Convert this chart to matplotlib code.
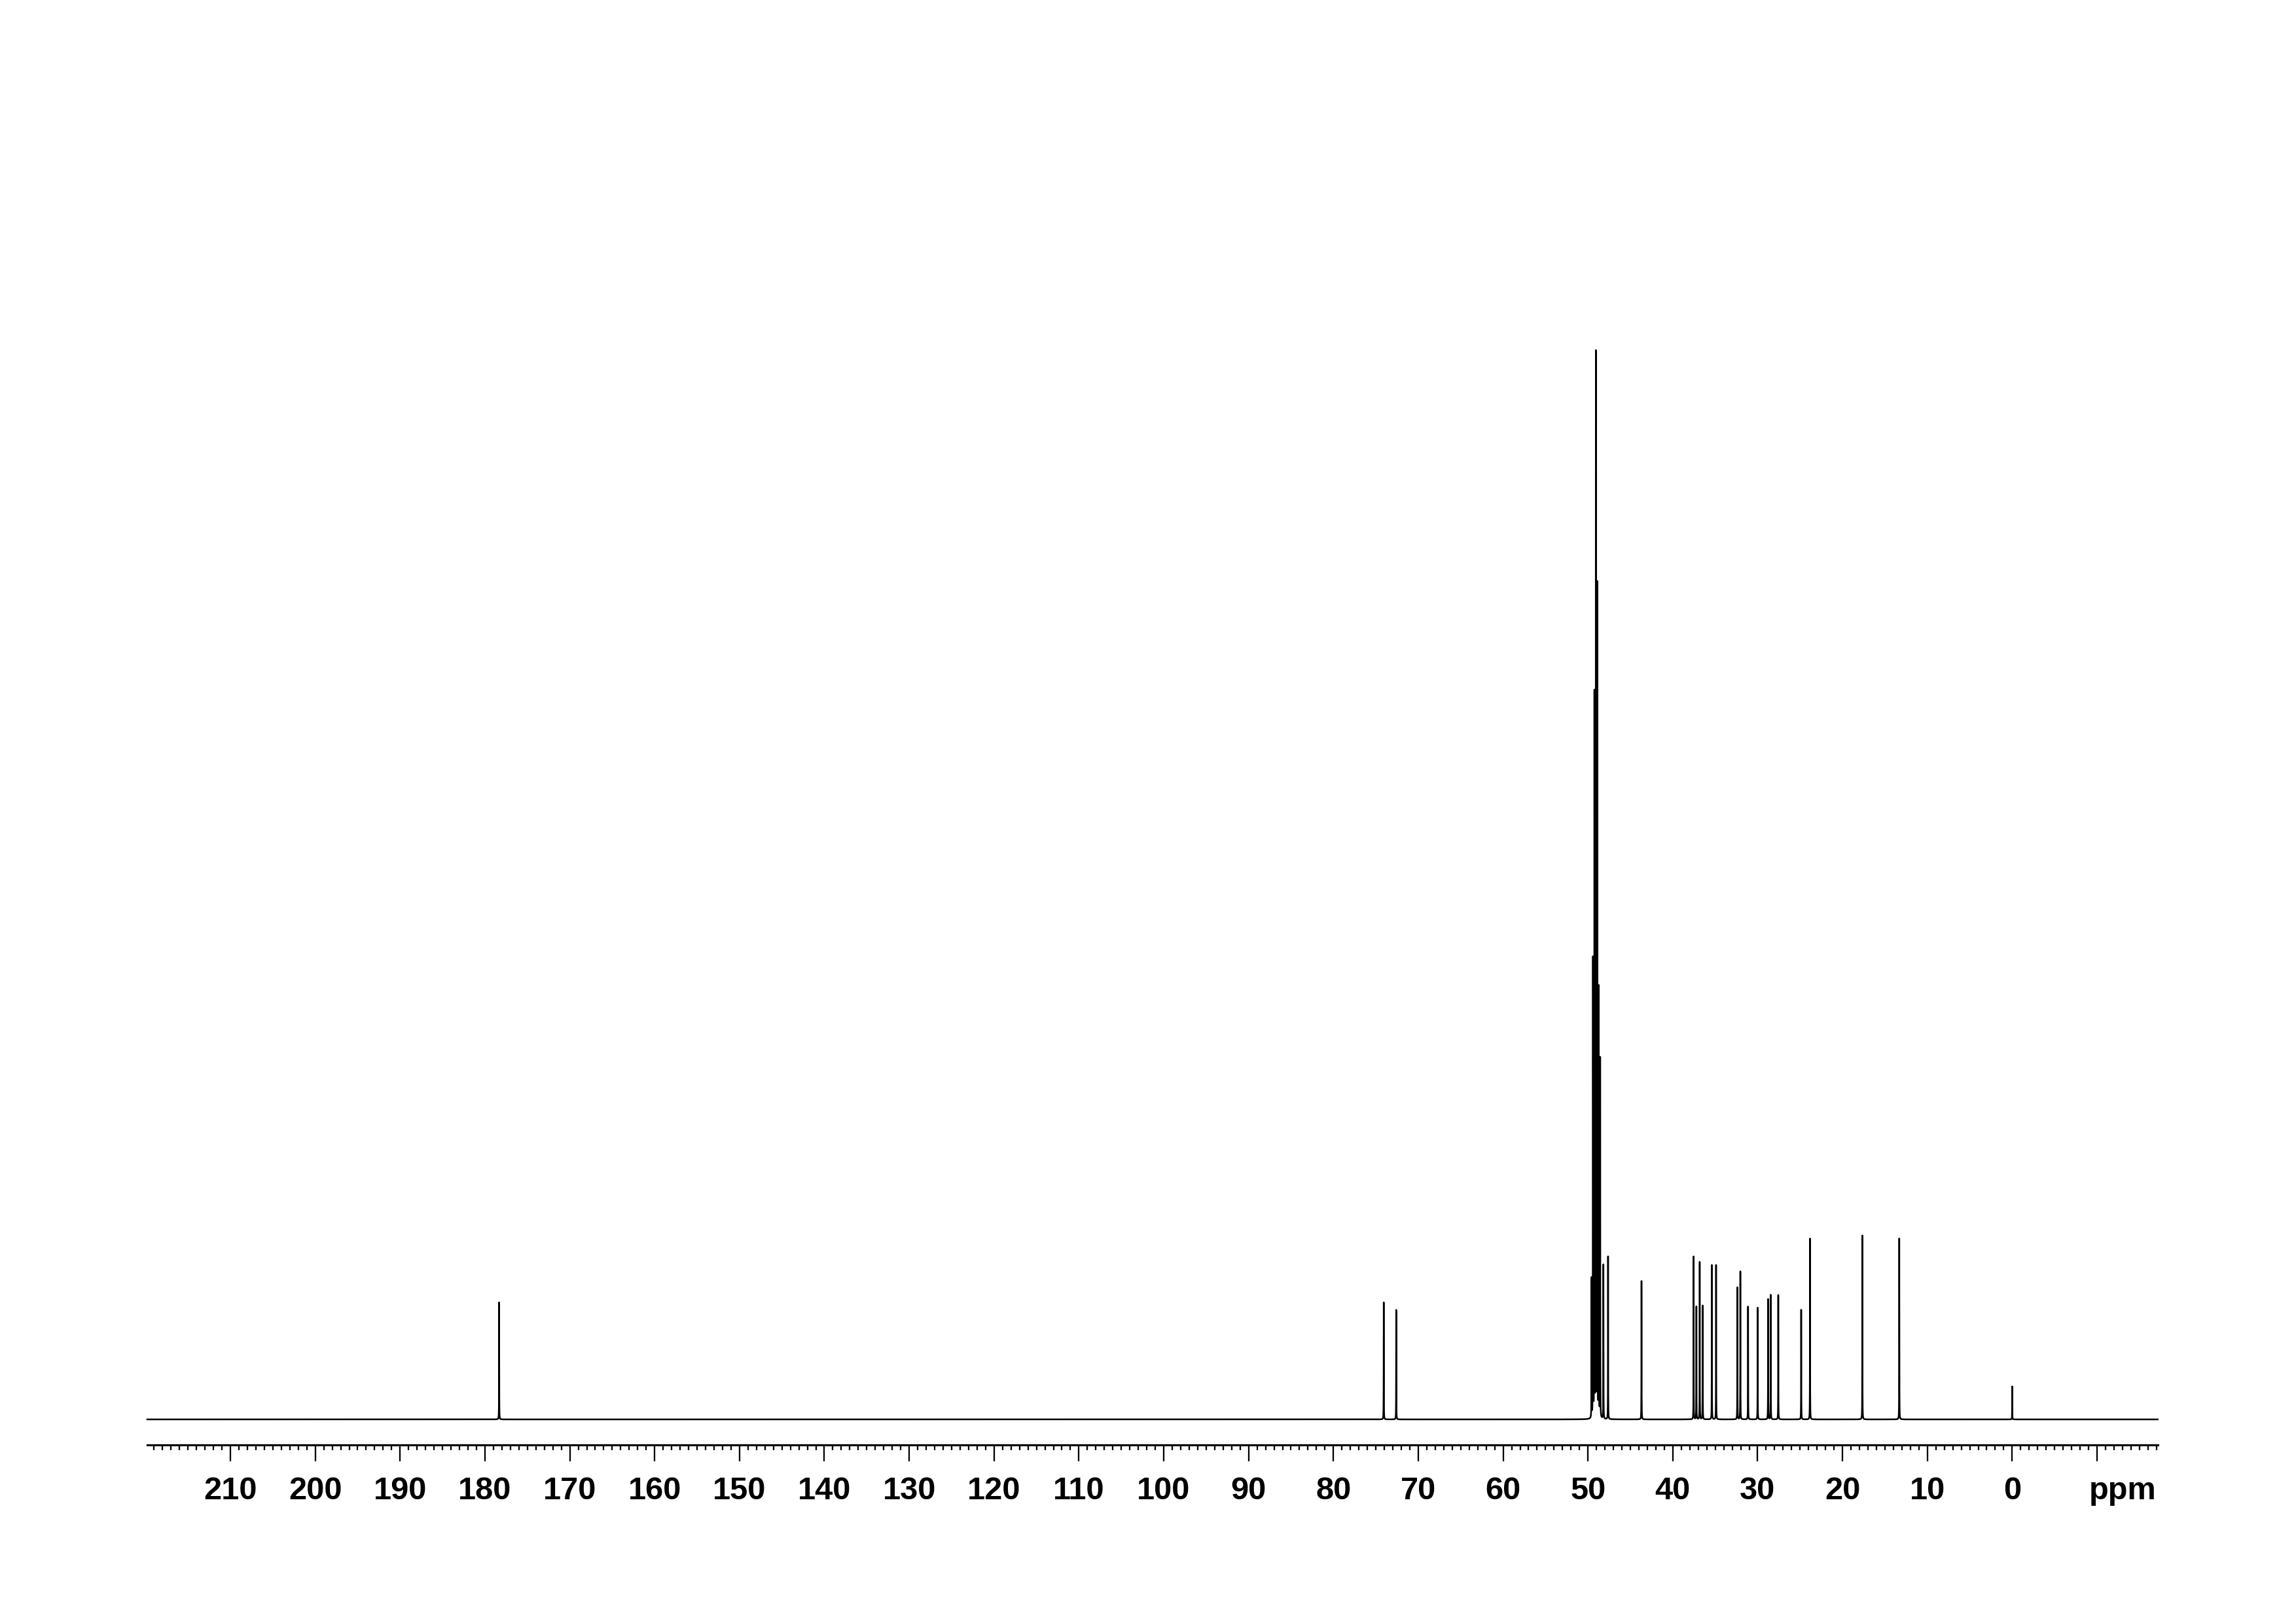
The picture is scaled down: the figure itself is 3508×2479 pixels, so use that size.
#!/usr/bin/env python3
"""13C NMR spectrum redrawn from a peak list (CD3OD, TMS)."""

import matplotlib

matplotlib.use("Agg")
import matplotlib.pyplot as plt
import matplotlib.transforms as mtransforms
import numpy as np


# solvent septet (CD3OD), ppm and intensity in % of the tallest line
SOLVENT_PPM = [49.58, 49.41, 49.24, 49.07, 48.90, 48.73, 48.56]
SOLVENT_INT = [13.1, 43.1, 68.0, 100.0, 78.2, 40.3, 33.8]

# sample signals
PEAK_PPM = [
    178.33, 74.07, 72.60, 48.18, 47.63, 43.69, 37.55, 37.22, 36.83, 36.48,
    35.40, 34.90, 32.39, 32.04, 31.13, 30.00, 28.77, 28.46, 27.57, 24.87,
    23.83, 17.66, 13.31, 0.00,
]
PEAK_INT = [
    11.0, 11.0, 10.3, 14.5, 15.3, 13.0, 15.3, 10.6, 14.8, 10.7,
    14.5, 14.5, 12.4, 13.9, 10.6, 10.5, 11.3, 11.7, 11.7, 10.3,
    17.0, 17.3, 17.0, 3.1,
]

X_LEFT, X_RIGHT = 219.8, -17.15
MAJOR_TICKS = list(range(210, -11, -10))
TICK_LABELS = [str(t) for t in MAJOR_TICKS[:-1]] + [""]
UNIT_LABEL = "ppm"

HALF_WIDTH = 0.01  # lorentzian half width, ppm


def spectrum(ppm: np.ndarray, centers: list[float], heights: list[float]) -> np.ndarray:
    out = np.zeros_like(ppm)
    w2 = HALF_WIDTH ** 2
    for c, h in zip(centers, heights):
        out += h * w2 / ((ppm - c) ** 2 + w2)
    return out


def main() -> None:
    plt.rcParams["font.family"] = ["Liberation Sans", "DejaVu Sans"]

    ppm = np.linspace(X_LEFT, X_RIGHT, 300001)
    intensity = spectrum(ppm, SOLVENT_PPM + PEAK_PPM, SOLVENT_INT + PEAK_INT)

    fig = plt.figure(figsize=(3508 / 300, 2479 / 300), dpi=300)
    ax = fig.add_axes([0.06414, 0.12545, 0.87563, 0.77451])
    ax.plot(ppm, intensity, color="black", linewidth=0.6, clip_on=False)

    ax.set_xlim(X_LEFT, X_RIGHT)
    ax.set_ylim(0, 118.1)

    for side in ("left", "right", "top"):
        ax.spines[side].set_visible(False)
    ax.spines["bottom"].set_position(("outward", 9.4))
    ax.spines["bottom"].set_linewidth(0.75)
    ax.set_yticks([])

    ax.set_xticks(MAJOR_TICKS)
    ax.set_xticklabels(TICK_LABELS)
    ax.set_xticks(np.arange(-17, 220, 1), minor=True)
    ax.tick_params(axis="x", which="major", direction="out", length=6.0,
                   width=0.55, pad=5.5, labelsize=11.7)
    ax.tick_params(axis="x", which="minor", direction="out", length=2.0, width=0.55)
    for label in ax.get_xticklabels():
        label.set_fontweight("bold")

    # unit label sits where the -10 tick label would be, shifted right
    trans = ax.get_xaxis_text1_transform(6.0 + 5.5)[0] + mtransforms.ScaledTranslation(
        9.4 / 72, 0, fig.dpi_scale_trans
    )
    ax.text(MAJOR_TICKS[-1], 0, UNIT_LABEL, transform=trans, ha="center", va="top",
            fontsize=11.7, fontweight="bold")

    fig.savefig("out.png", dpi=300)
    plt.close(fig)


if __name__ == "__main__":
    main()
